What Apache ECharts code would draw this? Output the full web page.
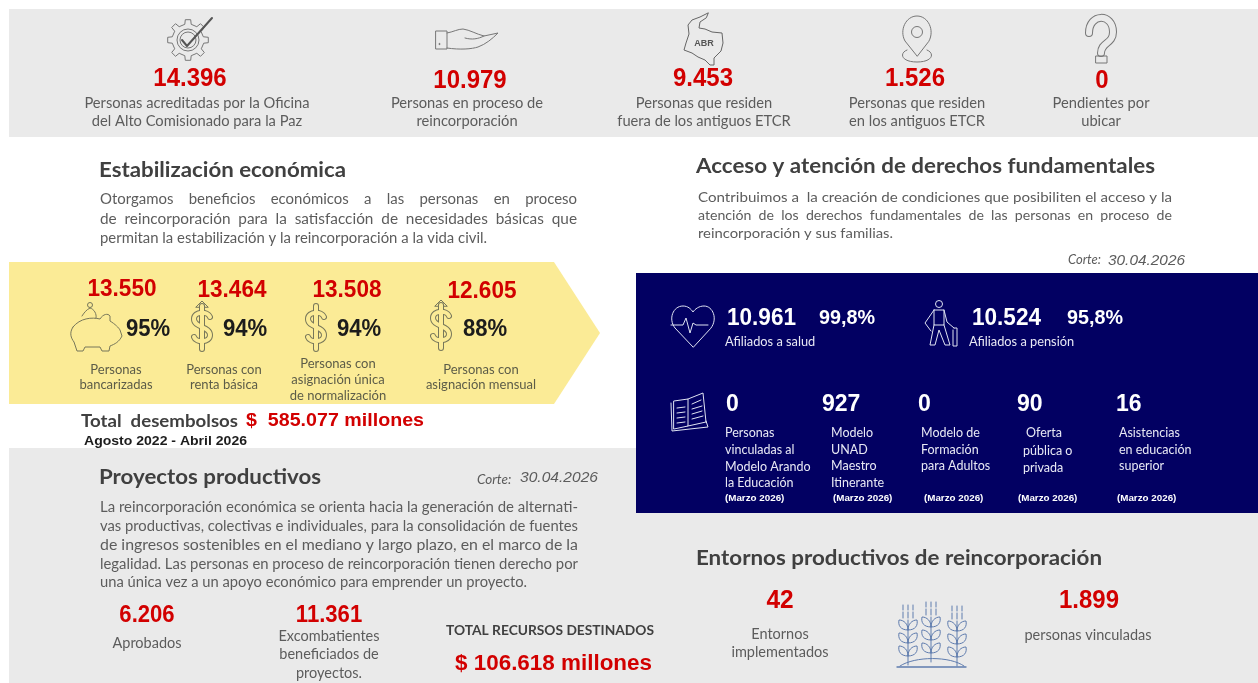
<!DOCTYPE html>
<html><head><meta charset="utf-8">
<style>html,body{margin:0;padding:0;background:#fff}#c{width:1258px;height:683px;filter:blur(0.45px)}</style>
<script src="https://cdn.jsdelivr.net/npm/echarts@6/dist/echarts.min.js"></script>
</head><body><div id="c"></div>
<script>
// ---------- DATA ----------
const summaryValues = ['14.396','10.979','9.453','1.526','0'];
const summaryLabels = [
  ['Personas acreditadas por la Oficina','del Alto Comisionado para la Paz'],
  ['Personas en proceso de','reincorporación'],
  ['Personas que residen','fuera de los antiguos ETCR'],
  ['Personas que residen','en los antiguos ETCR'],
  ['Pendientes por','ubicar']];
const econTitle = 'Estabilización económica';
const econText = ['Otorgamos beneficios económicos a las personas en proceso','de reincorporación para la satisfacción de necesidades básicas que','permitan la estabilización y la reincorporación a la vida civil.'];
const econValues = ['13.550','13.464','13.508','12.605'];
const econPercents = ['95%','94%','94%','88%'];
const econLabels = [['Personas','bancarizadas'],['Personas con','renta básica'],['Personas con','asignación única','de normalización'],['Personas con','asignación mensual']];
const disbursedLabel = 'Total  desembolsos';
const disbursedValue = '$  585.077 millones';
const disbursedPeriod = 'Agosto 2022 - Abril 2026';
const rightsTitle = 'Acceso y atención de derechos fundamentales';
const rightsText = ['Contribuimos a  la creación de condiciones que posibiliten el acceso y la','atención de los derechos fundamentales de las personas en proceso de','reincorporación y sus familias.'];
const cutLabel = 'Corte:';
const cutDate = '30.04.2026';
const healthValues = ['10.961','10.524'];
const healthPercents = ['99,8%','95,8%'];
const healthLabels = ['Afiliados a salud','Afiliados a pensión'];
const eduValues = ['0','927','0','90','16'];
const eduLabels = [['Personas','vinculadas al','Modelo Arando','la Educación'],['Modelo','UNAD','Maestro','Itinerante'],['Modelo de','Formación','para Adultos'],['Oferta','pública o','privada'],['Asistencias','en educación','superior']];
const eduPeriod = '(Marzo 2026)';
const projTitle = 'Proyectos productivos';
const projText = ['La reincorporación económica se orienta hacia la generación de alternati-','vas productivas, colectivas e individuales, para la consolidación de fuentes','de ingresos sostenibles en el mediano y largo plazo, en el marco de la','legalidad. Las personas en proceso de reincorporación tienen derecho por','una única vez a un apoyo económico para emprender un proyecto.'];
const projValues = ['6.206','11.361'];
const projLabels = [['Aprobados'],['Excombatientes','beneficiados de','proyectos.']];
const projTotalLabel = 'TOTAL RECURSOS DESTINADOS';
const projTotalValue = '$ 106.618 millones';
const envTitle = 'Entornos productivos de reincorporación';
const envValues = ['42','1.899'];
const envLabels = [['Entornos','implementados'],['personas vinculadas']];

// ---------- LAYOUT ----------
const RED='#d20000', GREY='#5c5c5c', DARK='#404040', NAVY='#020062', BAND='#eaeaea', YEL='#fbeb96';
const LATO='Lato, "Open Sans", sans-serif', ARIAL='"Liberation Sans", Arial, sans-serif';
const measure=document.createElement('canvas').getContext('2d');
const g=[], icons=[];
function widthOf(s,font,size,weight,style){measure.font=(style||'normal')+' '+(weight||'normal')+' '+size+'px '+font;return measure.measureText(s).width;}
function T(s,x,y,o){o=o||{};const font=o.font||LATO,size=o.size||14,weight=o.weight||'normal',fs=o.style||'normal';
  let txt=s,sx=o.sx||1;
  if(o.width){
    const w0=widthOf(txt,font,size,weight,fs);
    if(o.justify){const sp=widthOf(' ',font,size,weight,fs),n=(s.match(/ /g)||[]).length;
      if(n){const extra=Math.max(0,Math.floor((o.width-w0)/n/sp));const pad=' '.repeat(extra+1);txt=s.replace(/ /g,pad);}}
    sx=o.width/widthOf(txt,font,size,weight,fs);
  }
  g.push({type:'text',x:x,y:y,scaleX:sx,scaleY:1,z:5,silent:true,style:{text:txt,x:0,y:0,fill:o.color||GREY,fontFamily:font,fontSize:size,fontWeight:weight,fontStyle:fs,align:o.align||'left',verticalAlign:'middle'}});
}
function N(s,x,y,size,color,align){T(s,x,y,{font:ARIAL,weight:'bold',size:size,sx:0.94,color:color,align:align||'center'});}
function R(x,y,w,h,fill){g.push({type:'rect',z:1,silent:true,shape:{x,y,width:w,height:h},style:{fill}});}
function P(d,o){icons.push({type:'path',shape:{pathData:d},style:{fill:o.fill||'none',stroke:o.stroke||'#777',lineWidth:o.lw||1,lineJoin:'round',lineCap:'round'}});}
function C(cx,cy,r,o){icons.push({type:'circle',shape:{cx,cy,r},style:{fill:o.fill||'none',stroke:o.stroke||'#777',lineWidth:o.lw||1}});}

// Backgrounds
R(9,9,1249,128,BAND);
R(9,448,1249,235,BAND);
g.push({type:'polygon',z:2,silent:true,shape:{points:[[9,262],[554,262],[600,333],[554,404],[9,404]]},style:{fill:YEL}});
g.push({type:'rect',z:2,silent:true,shape:{x:636,y:273,width:622,height:240},style:{fill:NAVY}});

// Summary row
const sumX=[190,470,703,915,1102], sumY=[79,81,79,79,81], sumLX=[197,467,704,917,1101];
summaryValues.forEach((v,i)=>{N(v,sumX[i],sumY[i],25.5,RED);
  summaryLabels[i].forEach((l,j)=>T(l,sumLX[i],103+j*18.5,{size:14.7,align:'center'}));});

// Titles
T(econTitle,99,171,{size:20,weight:'bold',color:DARK,width:247});
T(rightsTitle,696,167,{size:20,weight:'bold',color:DARK,width:459});
T(projTitle,99,478,{size:20,weight:'bold',color:DARK,width:222});
T(envTitle,696,559,{size:20,weight:'bold',color:DARK,width:406});

// Paragraphs
[477,477,0].forEach((w,i)=>T(econText[i],100,[199,219,238][i],w?{size:14.5,width:w,justify:true}:{size:14.5,width:387}));
[474,474,0].forEach((w,i)=>T(rightsText[i],698,[197,215,233][i],w?{size:14,width:w,justify:i==1}:{size:14,width:195}));
[478,478,478,478,0].forEach((w,i)=>T(projText[i],100,[507,526,545,564,582][i],w?{size:14.5,width:w,justify:true}:{size:14.5,width:427}));

// Cut-off dates
T(cutLabel,1068,260,{size:13,style:'italic'});
T(cutDate,1108,261,{font:ARIAL,size:14.5,style:'italic',width:77});
T(cutLabel,477,480,{size:13.5,style:'italic'});
T(cutDate,520,478,{font:ARIAL,size:14.5,style:'italic',width:78});

// Yellow arrow block
const ecX=[122,232,347,482], ecY=[289,290,290,291], epX=[148,245,359,485], elX=[116,224,338,481], elY=[[370,385],[370,385],[364,380,396],[370,385]];
econValues.forEach((v,i)=>{N(v,ecX[i],ecY[i],24,RED);
  N(econPercents[i],epX[i],330,23.5,'#1c1c1c');
  econLabels[i].forEach((l,j)=>T(l,elX[i],elY[i][j],{size:13,color:'#5c5c48',align:'center'}));});
T(disbursedLabel,81,422,{size:16.5,weight:'bold',color:DARK,width:157});
T(disbursedValue,246,421,{font:ARIAL,size:18.5,weight:'bold',color:RED,width:178});
T(disbursedPeriod,84,442,{font:ARIAL,size:12,weight:'bold',color:'#1c1c1c',width:163});

// Blue panel
const hX=[727,972], hpX=[819,1067], hlX=[725,969];
healthValues.forEach((v,i)=>{N(v,hX[i],318,24,'#fff','left');
  N(healthPercents[i],hpX[i],318,21,'#fff','left');
  T(healthLabels[i],hlX[i],342,{size:12.8,color:'#e8e8f4'});});
const edX=[726,822,918,1017,1116], edlX=[725,831,921,1023,1119], edpX=[725,833,924,1018,1117];
const edlY=[[433,450,467,483],[433,450,466,483],[433,450,466],[433,451,468],[433,450,466]];
eduValues.forEach((v,i)=>{N(v,edX[i],404,24.5,'#fff','left');
  eduLabels[i].forEach((l,j)=>T(l,edlX[i]+((i==3&&j==0)?3:0),edlY[i][j],{size:12.5,color:'#e8e8f4'}));
  T(eduPeriod,edpX[i],498,{font:ARIAL,size:9.8,weight:'bold',color:'#fff'});});

// Projects block
const pX=[147,329];
projValues.forEach((v,i)=>{N(v,pX[i],616,23.5,RED);});
T(projLabels[0][0],147,643,{size:14.5,align:'center'});
projLabels[1].forEach((l,j)=>T(l,329,636+j*18.5,{size:14.5,align:'center'}));
T(projTotalLabel,446,630,{size:14,weight:'bold',color:DARK,width:208});
T(projTotalValue,455,664,{font:ARIAL,size:22,weight:'bold',color:RED,width:197});

// Environments block
N(envValues[0],780,601,26,RED);
N(envValues[1],1089,601,25.5,RED);
envLabels[0].forEach((l,j)=>T(l,780,634+j*18,{size:14.5,align:'center'}));
T(envLabels[1][0],1088,635,{size:14.5,align:'center'});

// ---------- ICONS ----------
// gear with check
(function(){const cx=188,cy=40,n=8;let d='';
  for(let k=0;k<n;k++){const a=k/n*2*Math.PI;const pts=[[-0.20,16],[-0.13,20.5],[0.13,20.5],[0.20,16]];
    pts.forEach((p,q)=>{const x=cx+p[1]*Math.cos(a+p[0]),y=cy+p[1]*Math.sin(a+p[0]);d+=(k==0&&q==0?'M':'L')+x.toFixed(1)+' '+y.toFixed(1)+' ';});}
  P(d+'Z',{stroke:'#777'});C(cx,cy,11,{stroke:'#777'});C(cx,cy,8,{stroke:'#777'});
  P('M182 40 L187 46 L212 18',{stroke:'#555',lw:2});})();
// hand
P('M436 31 L447 31 L447 49 L436 49 Z',{});
P('M447 33 C453 32 458 29 463 29 C470 30 476 34 484 36 L498 33 C492 39 486 44 478 47 C472 49 460 50 447 48',{});
P('M484 36 C478 39 472 40 465 38',{});C(439.5,44,0.6,{fill:'#555'});
// map
P('M708 13 L700 17 L692 20 L688 25 L689 34 L686 43 L684 50 L692 53 L698 57 L705 60 L710 65 L714 65 L714 58 L721 51 L723 43 L722 33 L712 32 L705 29 L699 28 L700 22 L706 18 Z',{stroke:'#666'});
T('ABR',704,44,{font:ARIAL,weight:'bold',size:9,color:'#555',align:'center'});
// pin
P('M917 56 L905 41 C899 30 906 16 917 16 C928 16 935 30 929 41 Z',{stroke:'#777'});
C(917,32,5.5,{stroke:'#777'});
P('M907 50 C899 53 901 62 917 62 C933 62 935 53 927 50',{stroke:'#777'});
// question mark (outlined tube)
const q='M1089 33 C1089 13 1113 13 1113 32 C1113 44 1101 42 1101 53';
P(q,{stroke:'#777',lw:8});P(q,{stroke:BAND,lw:6});
P('M1096 56 L1107 56 L1107 63 L1096 63 Z',{stroke:'#777'});
// piggy
const PIG='#77775a';
P('M73 327 C80 318 92 317 100 319 C103 314 108 313 110 316 L110 321 C115 324 119 328 120 330 L122 336 C119 342 115 344 110 346 L109 351 L102 351 L100 347 L85 347 L83 351 L77 351 L74 342 C71 338 69 333 73 327 Z',{stroke:PIG});
P('M82 316 C84 313 86 310 90 308 C94 309 97 314 96 318',{stroke:PIG});C(90,305,2.5,{stroke:PIG});
// dollar signs (outlined tubes)
[[202,327,1],[316,327,0],[441,326,1]].forEach(c=>{const [x,y,arrow]=c;
  const d=`M${x+8} ${y-10} C${x+6} ${y-16} ${x-8} ${y-16} ${x-8} ${y-8} C${x-8} ${y+1} ${x+8} ${y-1} ${x+8} ${y+8} C${x+8} ${y+16} ${x-6} ${y+16} ${x-8} ${y+10}`;
  const b=`M${x} ${y-21} L${x} ${y+22}`;
  if(arrow)P(`M${x-6} ${y-20} L${x} ${y-26} L${x+6} ${y-20} Z`,{stroke:PIG});
  P(d,{stroke:PIG,lw:6});P(b,{stroke:PIG,lw:6});
  P(d,{stroke:YEL,lw:4});P(b,{stroke:YEL,lw:4});});
// heart
const WH='#dfe3f2';
P('M693 347 L675 328 C668 319 673 306 683 306 C688 306 691 309 693 312 C695 309 699 306 704 306 C713 306 718 319 711 328 Z',{stroke:WH});
P('M671 325 L683 325 L686 318 L690 333 L693 323 L696 325 L708 325',{stroke:WH,fill:NAVY});
// walker
C(939,304,3.5,{stroke:WH});
P('M934 310 L944 310 L947 322 L954 328 M934 310 L925 323 L931 331 M934 310 L934 325 L944 325 L944 310 M934 325 L930 345 L935 345 L939 330 L945 345 L950 345 L944 325',{stroke:WH});
P('M954 328 L957 328 L957 346 L953 346 L953 330',{stroke:WH});
// book
P('M674 401 L688 399 L688 426 L674 429 Z M688 399 L703 393 L706 422 L688 426 M671 403 L672 431 L690 429 L708 427 L706 421',{stroke:WH});
['M677 408 L685 407','M677 413 L685 412','M677 418 L685 417','M677 423 L685 422','M692 404 L701 400','M692 409 L702 406','M692 414 L702 411','M692 419 L703 416'].forEach(d=>P(d,{stroke:WH}));
// plants
const PL='#5f7cae';
[[908,656],[931,653],[957,657]].forEach(c=>{const [x,yb]=c;
  P(`M${x} ${yb-36} L${x} ${yb+9}`,{stroke:PL});
  [0,1,2].forEach(k=>{const y=yb-k*13;
    P(`M${x} ${y} C${x-8} ${y} ${x-10} ${y-5} ${x-9} ${y-10} C${x-4} ${y-10} ${x} ${y-6} ${x} ${y} C${x} ${y-6} ${x+4} ${y-10} ${x+9} ${y-10} C${x+10} ${y-5} ${x+8} ${y} ${x} ${y}`,{stroke:PL});});
  [-5,0,5].forEach(dx=>{P(`M${x+dx} ${yb-51} L${x+dx} ${yb-46}`,{stroke:PL});P(`M${x+dx} ${yb-44} L${x+dx} ${yb-38}`,{stroke:PL});});});
P('M897 667 L966 667',{stroke:PL,lw:1.4});P('M900 666 C915 656 950 656 964 666',{stroke:PL});

const chart=echarts.init(document.getElementById('c'),null,{renderer:'canvas'});
chart.setOption({animation:false,backgroundColor:'#fff',graphic:{elements:g},
  series:[{type:'custom',coordinateSystem:'none',silent:true,data:[[0]],renderItem:function(){return {type:'group',children:icons};}}]});
</script></body></html>
